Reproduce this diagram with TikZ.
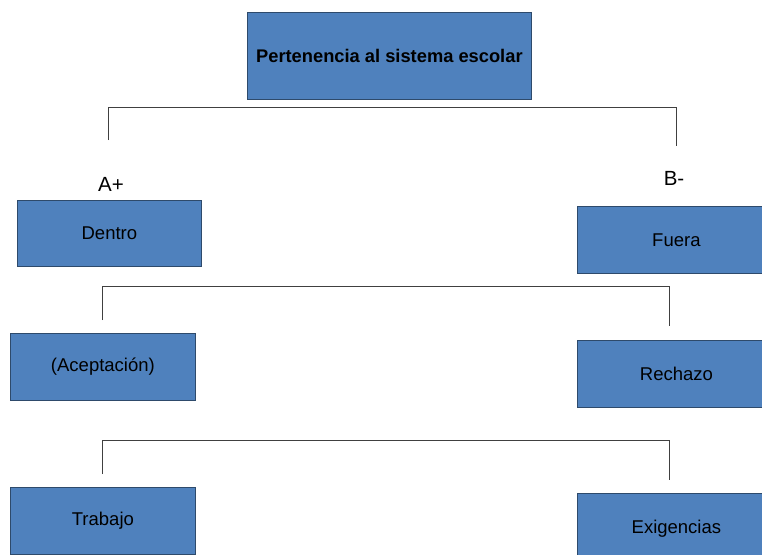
\documentclass[tikz,border=0pt]{standalone}
\usepackage{fontspec}
\setmainfont{Liberation Sans}
\definecolor{boxfill}{HTML}{4F81BD}
\definecolor{boxline}{HTML}{2E4A6B}
\definecolor{linecol}{HTML}{404040}
\begin{document}
\begin{tikzpicture}[x=1pt,y=-1pt,
  blue box/.style={draw=boxline,line width=0.8pt,fill=boxfill,inner sep=0pt,anchor=north west,font=\fontsize{18.5}{22}\selectfont},
  right box/.style={blue box,minimum width=198pt,text width=185pt,align=center},
  bracket/.style={draw=linecol,line width=0.8pt},
  sign/.style={font=\fontsize{20.5}{24}\selectfont,inner sep=0pt}]
\clip (0,0) rectangle (762,554);
\fill[white] (0,0) rectangle (762,554);
% boxes
\node[blue box,minimum width=284pt,minimum height=87pt,font=\fontsize{18.3}{22}\selectfont\bfseries] (top) at (247,12) {Pertenencia al sistema escolar};
\node[blue box,minimum width=184pt,minimum height=66pt] (dentro) at (17,200) {Dentro};
\node[right box,minimum height=67pt] (fuera) at (577,206) {Fuera};
\node[blue box,minimum width=185pt,minimum height=67pt] (acep) at (10,333) {(Aceptación)};
\node[right box,minimum height=67pt] (rech) at (577,340) {Rechazo};
\node[blue box,minimum width=185pt,minimum height=67pt] (trab) at (10,487) {Trabajo};
\node[right box,minimum height=70pt] (exig) at (577,493) {Exigencias};
% labels
\node[sign] (aplus) at (111,184) {A+};
\node[sign] (bminus) at (674,178) {B-};
% bracket coordinates
\coordinate (b1l) at (108,140);
\coordinate (b1r) at (676,146);
\coordinate (b2l) at (102,320);
\coordinate (b2r) at (669,326);
\coordinate (b3l) at (102,474);
\coordinate (b3r) at (669,480);
\draw[bracket] (b1l) -- (108,107) -- (676,107) -- (b1r);
\draw[bracket] (b2l) -- (102,286) -- (669,286) -- (b2r);
\draw[bracket] (b3l) -- (102,440) -- (669,440) -- (b3r);
\end{tikzpicture}
\end{document}
